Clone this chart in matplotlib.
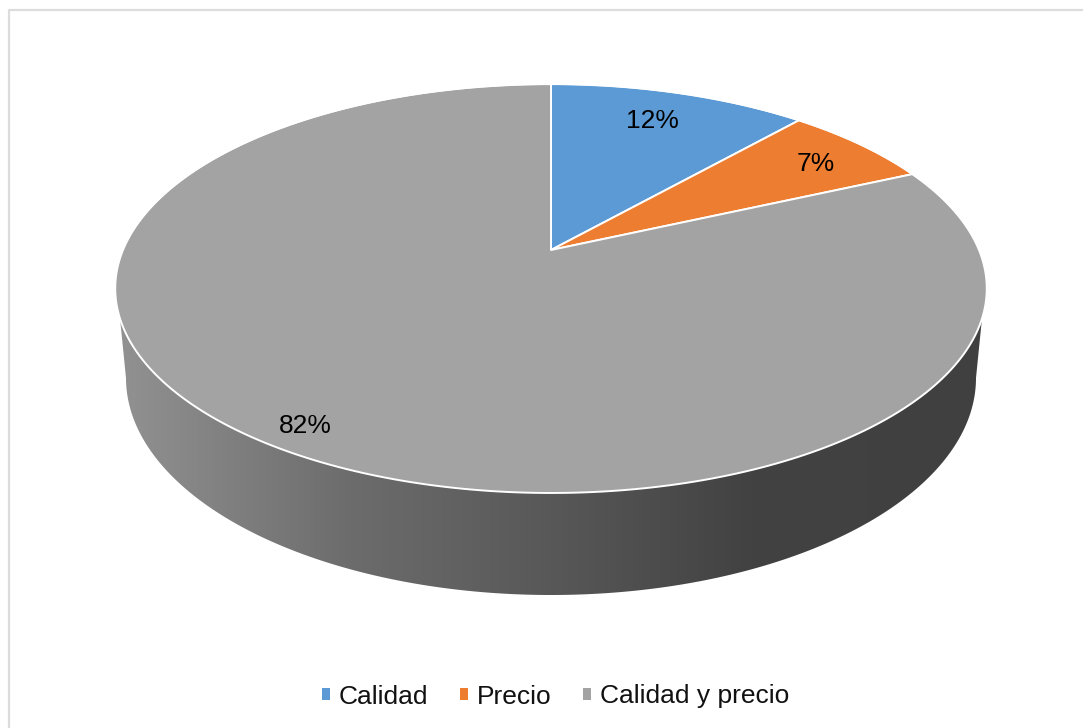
import numpy as np
import matplotlib
matplotlib.use("Agg")
import matplotlib.pyplot as plt
from matplotlib.patches import Polygon, Patch
from matplotlib.colors import LinearSegmentedColormap

plt.rcParams['font.family'] = ['Liberation Sans', 'DejaVu Sans']

categories = ["Calidad", "Precio", "Calidad y precio"]
values = [11.5, 6.7, 81.8]
labels = ["12%", "7%", "82%"]
colors = ["#5b9ad5", "#ed7d31", "#a3a3a3"]

W, H = 1083, 728

# perspective disc: centre of the pie, half widths, tilt
cx, cy = 551, 250
a, b, k = 428, 197.3, 0.188


def project(theta, r=1.0):
    # theta clockwise from the top of the pie
    u = r * np.sin(theta)
    v = r * np.cos(theta)
    d = 1 + k * v
    return cx + a * u / d, cy - b * v / d


fig = plt.figure(figsize=(W / 100, H / 100), dpi=100, facecolor="white")
ax = fig.add_axes([0, 0, 1, 1])
ax.set_xlim(0, W)
ax.set_ylim(H, 0)
ax.axis("off")

# frame of the chart area
ax.plot([8.5, 8.5, W + 5], [H + 5, 9.5, 9.5], color="#dcdcdc", lw=1.6, zorder=1)

# side of the disc, gradient clipped to an outline
t = np.linspace(0, np.pi, 200)
low_x = 551 - 425 * np.cos(t)
low_y = 378 + 217 * np.sin(t)
t2 = np.linspace(np.pi, 0, 200)
top_x = 551 - 434.5 * np.cos(t2)
top_y = 288.5 + 204.5 * np.sin(t2) - 5
side_xy = np.vstack([np.column_stack([low_x, low_y]),
                     np.column_stack([top_x[top_y > 300], top_y[top_y > 300]])])
side = Polygon(side_xy, closed=True, facecolor="none", edgecolor="none")
ax.add_patch(side)
side_cmap = LinearSegmentedColormap.from_list(
    "side", [(0, "#929292"), (0.27, "#6c6c6c"), (0.5, "#585858"), (0.73, "#424242"), (1, "#404040")])
img = ax.imshow(np.linspace(0, 1, 512).reshape(1, -1), cmap=side_cmap, aspect="auto",
                extent=(116, 986, 600, 300), zorder=2)
img.set_clip_path(side)
ax.set_xlim(0, W)
ax.set_ylim(H, 0)

# top of the disc, slices from the values
edges = np.cumsum([0] + values) / sum(values) * 2 * np.pi
for i, c in enumerate(colors):
    th = np.linspace(edges[i], edges[i + 1], 300)
    x, y = project(th)
    xy = np.vstack([[cx, cy], np.column_stack([x, y])])
    ax.add_patch(Polygon(xy, closed=True, facecolor=c, edgecolor="white", lw=1.4,
                         joinstyle="round", zorder=3))

# no white edge on the upper rim
th = np.linspace(-0.55 * np.pi, 0.55 * np.pi, 500)
x, y = project(th, 1.004)
ax.plot(x, y, color="white", lw=2.5, zorder=4)

label_x = [652, 816, 305]
label_y = [121, 164, 426]
for s, lx, ly in zip(labels, label_x, label_y):
    ax.text(lx, ly, s, fontsize=19, color="black", ha="center", va="center", zorder=5)

handles = [Patch(facecolor=c, edgecolor="none", label=n) for c, n in zip(colors, categories)]
fig.legend(handles=handles, loc="center", bbox_to_anchor=(555.5 / W, 1 - 696.5 / H), ncol=3,
           frameon=False, fontsize=19, handlelength=0.31, handleheight=0.31,
           handletextpad=0.33, columnspacing=1.2, labelcolor="#111111")

fig.savefig("out.png", dpi=100, facecolor="white")
